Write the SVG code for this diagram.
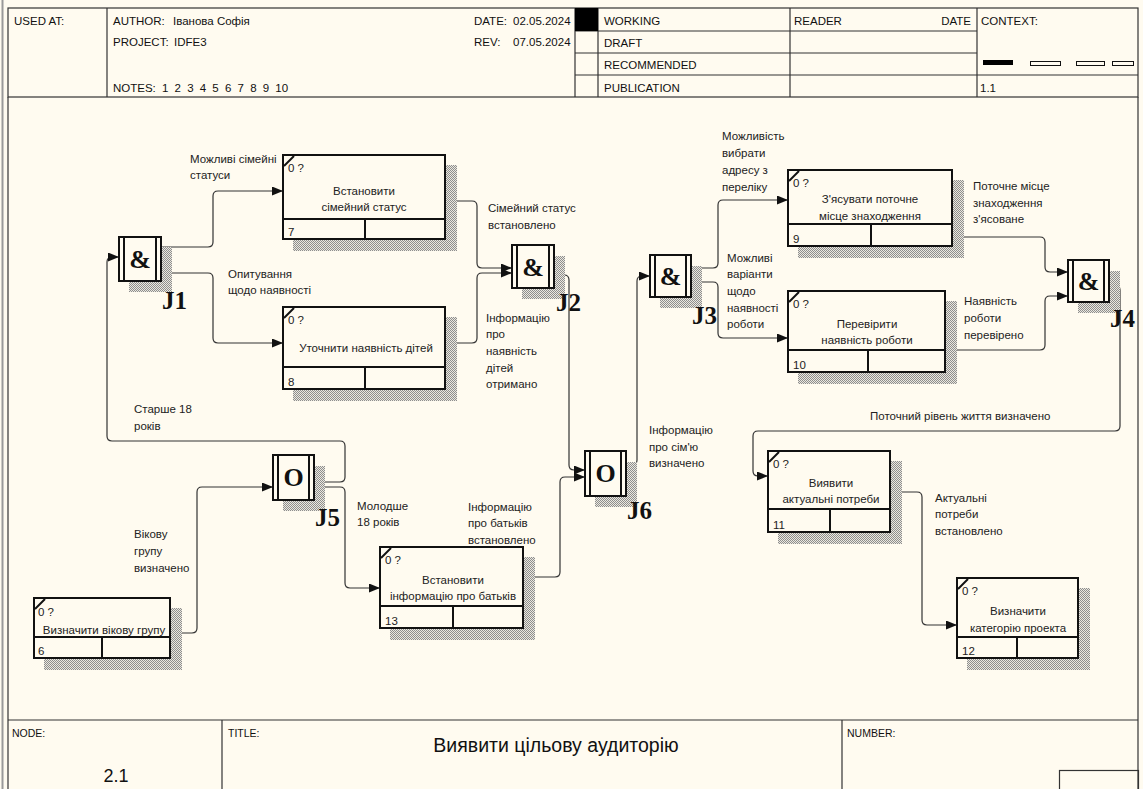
<svg xmlns="http://www.w3.org/2000/svg" width="1143" height="789" viewBox="0 0 1143 789">
<defs>
<pattern id="hatch" width="2" height="2" patternUnits="userSpaceOnUse"><rect width="2" height="2" fill="#ebe8df"/><rect width="1" height="1" fill="#8e8e8e"/><rect x="1" y="1" width="1" height="1" fill="#8e8e8e"/></pattern>
<marker id="arr" markerUnits="userSpaceOnUse" markerWidth="11" markerHeight="9" refX="11" refY="4.5" orient="auto"><path d="M0,0 L11,4.5 L0,9 z" fill="#111"/></marker>
<style>
.t{font-family:"Liberation Sans",Arial,sans-serif;font-size:11.5px;fill:#222}
.h{font-family:"Liberation Sans",Arial,sans-serif;font-size:11.5px;fill:#111}
.f{font-family:"Liberation Sans",Arial,sans-serif;font-size:10.5px;fill:#111}
.big{font-family:"Liberation Sans",Arial,sans-serif;font-size:18px;fill:#111;text-anchor:middle}
.ttl{font-family:"Liberation Sans",Arial,sans-serif;font-size:19.5px;fill:#111;text-anchor:middle}
.c{text-anchor:middle}
.box{fill:#FFFBF0;stroke:#111;stroke-width:2}
.sh{fill:url(#hatch)}
.ln{stroke:#111;stroke-width:2;fill:none}
.hl{stroke:#333;stroke-width:1.2;fill:none}
.conn{fill:none;stroke:#333;stroke-width:1.2;marker-end:url(#arr)}
.sym{font-family:"Liberation Serif","Times New Roman",serif;font-weight:bold;font-size:26px;fill:#111;text-anchor:middle}
.jl{font-family:"Liberation Serif","Times New Roman",serif;font-weight:bold;font-size:25px;fill:#111}
</style>
</defs>
<rect width="1143" height="789" fill="#FFFBF0"/>
<line x1="2.5" y1="0" x2="2.5" y2="789" stroke="#999" stroke-width="2"/>

<g id="frame">
<rect x="8" y="8" width="1130" height="89" class="hl" stroke-width="1.5"/>
<line x1="8" y1="97" x2="8" y2="789" class="hl" stroke-width="1.5"/>
<line x1="1138" y1="97" x2="1138" y2="789" class="hl" stroke-width="1.5"/>
<line x1="107" y1="8" x2="107" y2="97" class="hl"/>
<line x1="575" y1="8" x2="575" y2="97" class="hl"/>
<line x1="598" y1="8" x2="598" y2="97" class="hl"/>
<line x1="790" y1="8" x2="790" y2="97" class="hl"/>
<line x1="977" y1="8" x2="977" y2="97" class="hl"/>
<line x1="575" y1="31" x2="977" y2="31" class="hl"/>
<line x1="575" y1="53" x2="977" y2="53" class="hl"/>
<line x1="575" y1="75" x2="1138" y2="75" class="hl"/>
<rect x="575" y="8" width="23" height="23" fill="#000"/>
<text class="h" x="14" y="25">USED AT:</text>
<text class="h" x="113" y="25">AUTHOR:</text>
<text class="h" x="173" y="25">Іванова Софія</text>
<text class="h" x="113" y="46">PROJECT:</text>
<text class="h" x="174" y="46">IDFE3</text>
<text class="h" x="113" y="92" style="word-spacing:3px">NOTES: 1 2 3 4 5 6 7 8 9 10</text>
<text class="h" x="474" y="25">DATE:</text>
<text class="h" x="513" y="25">02.05.2024</text>
<text class="h" x="474" y="46">REV:</text>
<text class="h" x="513" y="46">07.05.2024</text>
<text class="h" x="604" y="25">WORKING</text>
<text class="h" x="604" y="47">DRAFT</text>
<text class="h" x="604" y="69">RECOMMENDED</text>
<text class="h" x="604" y="92">PUBLICATION</text>
<text class="h" x="794" y="25">READER</text>
<text class="h" x="971" y="25" text-anchor="end">DATE</text>
<text class="h" x="981" y="25">CONTEXT:</text>
<rect x="983" y="60" width="30" height="5" fill="#000"/>
<rect x="1030.5" y="61.5" width="30" height="4" fill="none" stroke="#111"/>
<rect x="1076.5" y="61.5" width="28" height="4" fill="none" stroke="#111"/>
<rect x="1112.5" y="61.5" width="21" height="4" fill="none" stroke="#111"/>
<text class="h" x="980" y="92">1.1</text>
<line x1="8" y1="720" x2="1138" y2="720" class="hl" stroke-width="1.5"/>
<line x1="222" y1="720" x2="222" y2="789" class="hl"/>
<line x1="842" y1="720" x2="842" y2="789" class="hl"/>
<rect x="1059.5" y="770.5" width="79" height="20" fill="none" stroke="#333" stroke-width="1.2"/>
<text class="f" x="12" y="737">NODE:</text>
<text class="f" x="228" y="737">TITLE:</text>
<text class="f" x="847" y="737">NUMBER:</text>
<text class="ttl" x="556" y="752">Виявити цільову аудиторію</text>
<text class="big" x="116" y="782">2.1</text>
</g>

<g id="connectors">
<path class="conn" d="M161,247 H208 Q213,247 213,242 V196 Q213,191 218,191 H283"/>
<path class="conn" d="M161,273 H208 Q213,273 213,278 V338 Q213,343 218,343 H283"/>
<path class="conn" d="M445,201 H472 Q477,201 477,206 V263 Q477,268 482,268 H512"/>
<path class="conn" d="M445,343 H472 Q477,343 477,338 V278 Q477,273 482,273 H512"/>
<path class="conn" d="M314,482 H340 Q345,482 345,477 V446 Q345,441 340,441 H112 Q107,441 107,436 V262 Q107,257 112,257 H119"/>
<path class="conn" d="M314,487 H340 Q345,487 345,492 V583 Q345,588 350,588 H380"/>
<path class="conn" d="M170,633 H192 Q197,633 197,628 V492 Q197,487 202,487 H273"/>
<path class="conn" d="M523,577 H555 Q560,577 560,572 V482 Q560,477 565,477 H585"/>
<path class="conn" d="M554,275 H564 Q569,275 569,280 V465 Q569,470 574,470 H585"/>
<path class="conn" d="M626,465 H632 Q637,465 637,460 V281 Q637,276 642,276 H650"/>
<path class="conn" d="M691,268 H713 Q718,268 718,263 V205 Q718,200 723,200 H788"/>
<path class="conn" d="M691,282 H713 Q718,282 718,287 V333 Q718,338 723,338 H788"/>
<path class="conn" d="M952,237 H1040 Q1045,237 1045,242 V267 Q1045,272 1050,272 H1068"/>
<path class="conn" d="M945,350 H1040 Q1045,350 1045,345 V301 Q1045,296 1050,296 H1068"/>
<path class="conn" d="M1109,285 H1115 Q1120,285 1120,290 V426 Q1120,431 1115,431 H758 Q753,431 753,436 V471 Q753,476 758,476 H768"/>
<path class="conn" d="M890,492 H917 Q922,492 922,497 V620 Q922,625 927,625 H957"/>
<text class="t" x="190" y="163">Можливі сімейні</text>
<text class="t" x="190" y="179">статуси</text>
<text class="t" x="228" y="278">Опитування</text>
<text class="t" x="228" y="294">щодо наявності</text>
<text class="t" x="488" y="212">Сімейний статус</text>
<text class="t" x="488" y="229">встановлено</text>
<text class="t" x="486" y="322">Інформацію</text>
<text class="t" x="486" y="338">про</text>
<text class="t" x="486" y="355">наявність</text>
<text class="t" x="486" y="372">дітей</text>
<text class="t" x="486" y="388">отримано</text>
<text class="t" x="134" y="413">Старше 18</text>
<text class="t" x="134" y="430">років</text>
<text class="t" x="134" y="538">Вікову</text>
<text class="t" x="134" y="555">групу</text>
<text class="t" x="134" y="572">визначено</text>
<text class="t" x="357" y="510">Молодше</text>
<text class="t" x="357" y="526">18 років</text>
<text class="t" x="468" y="511">Інформацію</text>
<text class="t" x="468" y="527">про батьків</text>
<text class="t" x="468" y="544">встановлено</text>
<text class="t" x="649" y="434">Інформацію</text>
<text class="t" x="649" y="451">про сім'ю</text>
<text class="t" x="649" y="467">визначено</text>
<text class="t" x="722" y="140">Можливість</text>
<text class="t" x="722" y="157">вибрати</text>
<text class="t" x="722" y="174">адресу з</text>
<text class="t" x="722" y="191">переліку</text>
<text class="t" x="727" y="262">Можливі</text>
<text class="t" x="727" y="278">варіанти</text>
<text class="t" x="727" y="295">щодо</text>
<text class="t" x="727" y="312">наявності</text>
<text class="t" x="727" y="328">роботи</text>
<text class="t" x="973" y="190">Поточне місце</text>
<text class="t" x="973" y="207">знаходження</text>
<text class="t" x="973" y="223">з'ясоване</text>
<text class="t" x="964" y="305">Наявність</text>
<text class="t" x="964" y="322">роботи</text>
<text class="t" x="964" y="339">перевірено</text>
<text class="t" x="870" y="420">Поточний рівень життя визначено</text>
<text class="t" x="935" y="502">Актуальні</text>
<text class="t" x="935" y="518">потреби</text>
<text class="t" x="935" y="535">встановлено</text>
</g>

<g id="box7">
<rect class="sh" x="445" y="165" width="12" height="86"/><rect class="sh" x="293" y="239" width="164" height="12"/>
<rect class="box" x="283" y="155" width="162" height="84"/>
<line class="ln" x1="284" y1="166" x2="294" y2="156"/>
<line class="ln" x1="283" y1="219" x2="445" y2="219"/><line class="ln" x1="365" y1="219" x2="365" y2="239"/>
<text class="t" x="288" y="172">0 ?</text>
<text class="t c" x="364" y="195">Встановити</text>
<text class="t c" x="364" y="211">сімейний статус</text>
<text class="t" x="288" y="236">7</text>
</g>
<g id="box8">
<rect class="sh" x="445" y="317" width="12" height="84"/><rect class="sh" x="293" y="389" width="164" height="12"/>
<rect class="box" x="283" y="307" width="162" height="82"/>
<line class="ln" x1="284" y1="318" x2="294" y2="308"/>
<line class="ln" x1="283" y1="367" x2="445" y2="367"/><line class="ln" x1="365" y1="367" x2="365" y2="389"/>
<text class="t" x="288" y="324">0 ?</text>
<text class="t c" x="366" y="352">Уточнити наявність дітей</text>
<text class="t" x="288" y="386">8</text>
</g>
<g id="box9">
<rect class="sh" x="952" y="180" width="12" height="78"/><rect class="sh" x="798" y="246" width="166" height="12"/>
<rect class="box" x="788" y="170" width="164" height="76"/>
<line class="ln" x1="789" y1="181" x2="799" y2="171"/>
<line class="ln" x1="788" y1="224" x2="952" y2="224"/><line class="ln" x1="871" y1="224" x2="871" y2="246"/>
<text class="t" x="793" y="187">0 ?</text>
<text class="t c" x="870" y="203">З'ясувати поточне</text>
<text class="t c" x="870" y="220">місце знаходження</text>
<text class="t" x="793" y="243">9</text>
</g>
<g id="box10">
<rect class="sh" x="945" y="301" width="12" height="83"/><rect class="sh" x="798" y="372" width="159" height="12"/>
<rect class="box" x="788" y="291" width="157" height="81"/>
<line class="ln" x1="789" y1="302" x2="799" y2="292"/>
<line class="ln" x1="788" y1="350" x2="945" y2="350"/><line class="ln" x1="868" y1="350" x2="868" y2="372"/>
<text class="t" x="793" y="308">0 ?</text>
<text class="t c" x="867" y="328">Перевірити</text>
<text class="t c" x="867" y="344">наявність роботи</text>
<text class="t" x="793" y="369">10</text>
</g>
<g id="box11">
<rect class="sh" x="890" y="461" width="12" height="83"/><rect class="sh" x="778" y="532" width="124" height="12"/>
<rect class="box" x="768" y="451" width="122" height="81"/>
<line class="ln" x1="769" y1="462" x2="779" y2="452"/>
<line class="ln" x1="768" y1="509" x2="890" y2="509"/><line class="ln" x1="830" y1="509" x2="830" y2="532"/>
<text class="t" x="773" y="468">0 ?</text>
<text class="t c" x="831" y="487">Виявити</text>
<text class="t c" x="831" y="503">актуальні потреби</text>
<text class="t" x="773" y="529">11</text>
</g>
<g id="box12">
<rect class="sh" x="1078" y="588" width="12" height="82"/><rect class="sh" x="967" y="658" width="123" height="12"/>
<rect class="box" x="957" y="578" width="121" height="80"/>
<line class="ln" x1="958" y1="589" x2="968" y2="579"/>
<line class="ln" x1="957" y1="637" x2="1078" y2="637"/><line class="ln" x1="1017" y1="637" x2="1017" y2="658"/>
<text class="t" x="962" y="595">0 ?</text>
<text class="t c" x="1018" y="615">Визначити</text>
<text class="t c" x="1018" y="632">категорію проекта</text>
<text class="t" x="962" y="655">12</text>
</g>
<g id="box13">
<rect class="sh" x="523" y="557" width="12" height="83"/><rect class="sh" x="390" y="628" width="145" height="12"/>
<rect class="box" x="380" y="547" width="143" height="81"/>
<line class="ln" x1="381" y1="558" x2="391" y2="548"/>
<line class="ln" x1="380" y1="606" x2="523" y2="606"/><line class="ln" x1="453" y1="606" x2="453" y2="628"/>
<text class="t" x="385" y="564">0 ?</text>
<text class="t c" x="453" y="584">Встановити</text>
<text class="t c" x="453" y="600">інформацію про батьків</text>
<text class="t" x="385" y="625">13</text>
</g>
<g id="box6">
<rect class="sh" x="170" y="608" width="12" height="62"/><rect class="sh" x="44" y="658" width="138" height="12"/>
<rect class="box" x="34" y="598" width="136" height="60"/>
<line class="ln" x1="35" y1="609" x2="45" y2="599"/>
<line class="ln" x1="34" y1="637" x2="170" y2="637"/><line class="ln" x1="102" y1="637" x2="102" y2="658"/>
<text class="t" x="38" y="616">0 ?</text>
<text class="t c" x="104" y="634">Визначити вікову групу</text>
<text class="t" x="38" y="655">6</text>
</g>

<g id="J1">
<rect class="sh" x="161" y="247" width="11" height="45"/><rect class="sh" x="129" y="281" width="43" height="11"/>
<rect class="box" x="119" y="237" width="42" height="44"/>
<line class="ln" x1="124" y1="237" x2="124" y2="281"/><line class="ln" x1="156" y1="237" x2="156" y2="281"/>
<text class="sym" x="140" y="268">&amp;</text>
<text class="jl" x="162" y="309">J1</text>
</g>
<g id="J2">
<rect class="sh" x="554" y="256" width="11" height="43"/><rect class="sh" x="522" y="288" width="43" height="11"/>
<rect class="box" x="512" y="245" width="42" height="43"/>
<line class="ln" x1="517" y1="245" x2="517" y2="288"/><line class="ln" x1="549" y1="245" x2="549" y2="288"/>
<text class="sym" x="533" y="276">&amp;</text>
<text class="jl" x="556" y="311">J2</text>
</g>
<g id="J3">
<rect class="sh" x="691" y="266" width="11" height="42"/><rect class="sh" x="660" y="297" width="42" height="11"/>
<rect class="box" x="650" y="255" width="41" height="42"/>
<line class="ln" x1="655" y1="255" x2="655" y2="297"/><line class="ln" x1="686" y1="255" x2="686" y2="297"/>
<text class="sym" x="670.5" y="285">&amp;</text>
<text class="jl" x="692" y="324">J3</text>
</g>
<g id="J4">
<rect class="sh" x="1109" y="271" width="11" height="42"/><rect class="sh" x="1078" y="302" width="42" height="11"/>
<rect class="box" x="1068" y="260" width="41" height="42"/>
<line class="ln" x1="1073" y1="260" x2="1073" y2="302"/><line class="ln" x1="1104" y1="260" x2="1104" y2="302"/>
<text class="sym" x="1088.5" y="290">&amp;</text>
<text class="jl" x="1110" y="327">J4</text>
</g>
<g id="J5">
<rect class="sh" x="314" y="466" width="11" height="45"/><rect class="sh" x="283" y="500" width="42" height="11"/>
<rect class="box" x="273" y="455" width="41" height="45"/>
<line class="ln" x1="278" y1="455" x2="278" y2="500"/><line class="ln" x1="309" y1="455" x2="309" y2="500"/>
<text class="sym" x="293.5" y="486">O</text>
<text class="jl" x="315" y="526">J5</text>
</g>
<g id="J6">
<rect class="sh" x="626" y="462" width="11" height="45"/><rect class="sh" x="595" y="496" width="42" height="11"/>
<rect class="box" x="585" y="451" width="41" height="45"/>
<line class="ln" x1="590" y1="451" x2="590" y2="496"/><line class="ln" x1="621" y1="451" x2="621" y2="496"/>
<text class="sym" x="605.5" y="482">O</text>
<text class="jl" x="627" y="519">J6</text>
</g>
</svg>
